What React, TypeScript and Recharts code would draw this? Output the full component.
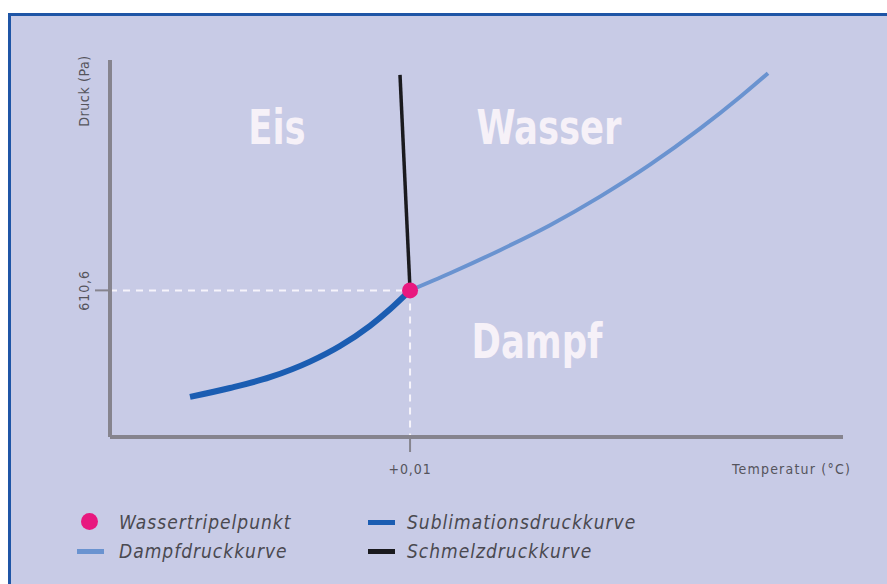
import { LineChart, Line, XAxis, YAxis, ReferenceLine, ReferenceDot } from 'recharts'

// Temperatur (°C) / Druck (Pa)
const sublimation = [
  { t: -44, p: 167 },
  { t: -36, p: 204 },
  { t: -28, p: 249 },
  { t: -20, p: 314 },
  { t: -14, p: 379 },
  { t: -8, p: 463 },
  { t: -4, p: 532 },
  { t: 0.01, p: 610.6 },
]

const dampfdruck = [
  { t: 0.01, p: 610.6 },
  { t: 8, p: 682 },
  { t: 18, p: 778 },
  { t: 28, p: 882 },
  { t: 38, p: 1001 },
  { t: 48, p: 1134 },
  { t: 58, p: 1284 },
  { t: 66, p: 1416 },
  { t: 71.6, p: 1515 },
]

const schmelz = [
  { t: 0.01, p: 610.6 },
  { t: -2, p: 1508 },
]

const triple = { t: 0.01, p: 610.6 }

const regions = [
  { name: 'Eis', t: -26.6, p: 1291 },
  { name: 'Wasser', t: 27.8, p: 1291 },
  { name: 'Dampf', t: 25.4, p: 400 },
]

const xTicks = [0.01]
const yTicks = [610.6]

const legendItems = [
  { name: 'Wassertripelpunkt', kind: 'dot', color: '#e8187f' },
  { name: 'Sublimationsdruckkurve', kind: 'line', color: '#1b5db2' },
  { name: 'Dampfdruckkurve', kind: 'line', color: '#6a93d0' },
  { name: 'Schmelzdruckkurve', kind: 'line', color: '#1a1a1e' },
]

const narrow = "'Liberation Sans Narrow', 'DejaVu Sans Condensed', Arial, sans-serif"
const axisGrey = '#86848e'
const textGrey = '#55545c'

const fmt = (v: number) => (v === 0.01 ? '+0,01' : String(v).replace('.', ','))

function YTick({ y, payload }: any) {
  const tx = 89
  return (
    <text
      x={tx}
      y={y}
      transform={`rotate(-90, ${tx}, ${y})`}
      textAnchor="middle"
      fontFamily={narrow}
      fontSize={14}
      letterSpacing={0.9}
      fill={textGrey}
    >
      {fmt(payload.value)}
    </text>
  )
}

function XTick({ x, payload }: any) {
  return (
    <text x={x} y={474} textAnchor="middle" fontFamily={narrow} fontSize={14} letterSpacing={0.9} fill={textGrey}>
      {fmt(payload.value)}
    </text>
  )
}

function RegionLabel({ viewBox, value }: any) {
  const cx = viewBox.x + viewBox.width / 2
  const cy = viewBox.y + viewBox.height / 2
  return (
    <text
      transform={`translate(${cx}, ${cy + 17}) scale(0.82, 1)`}
      x={0}
      y={0}
      textAnchor="middle"
      fontFamily={narrow}
      fontWeight="bold"
      fontSize={48}
      fill="#f6f1f8"
    >
      {value}
    </text>
  )
}

export default function App() {
  return (
    <div style={{ position: 'absolute', left: 0, top: 0, width: 887, height: 584, background: '#fff', overflow: 'hidden' }}>
      <div
        style={{
          position: 'absolute',
          left: 8,
          top: 13,
          width: 879,
          height: 571,
          boxSizing: 'border-box',
          background: '#c8cbe6',
          borderTop: '3px solid #1f55a6',
          borderLeft: '3px solid #1f55a6',
        }}
      />
      <div style={{ position: 'absolute', left: 0, top: 0 }}>
        <LineChart width={887} height={584} margin={{ top: 60, right: 44, left: 60, bottom: 117 }}>
          <XAxis
            type="number"
            dataKey="t"
            domain={[-60, 86.6]}
            ticks={xTicks}
            tick={<XTick />}
            tickSize={15}
            tickLine={{ stroke: axisGrey, strokeWidth: 2 }}
            axisLine={{ stroke: axisGrey, strokeWidth: 4 }}
            height={30}
            allowDataOverflow
            label={{
              content: ({ viewBox }: any) => (
                <text
                  x={viewBox.x + viewBox.width + 8}
                  y={474}
                  textAnchor="end"
                  fontFamily={narrow}
                  fontSize={14}
                  letterSpacing={1.2}
                  fill={textGrey}
                >
                  Temperatur (°C)
                </text>
              ),
            }}
          />
          <YAxis
            type="number"
            dataKey="p"
            domain={[0, 1570]}
            ticks={yTicks}
            tick={<YTick />}
            tickSize={15}
            tickLine={{ stroke: axisGrey, strokeWidth: 2 }}
            axisLine={{ stroke: axisGrey, strokeWidth: 4 }}
            width={50}
            allowDataOverflow
            label={{
              content: ({ viewBox }: any) => (
                <text
                  x={89}
                  y={viewBox.y + 31}
                  transform={`rotate(-90, 89, ${viewBox.y + 31})`}
                  textAnchor="middle"
                  fontFamily={narrow}
                  fontSize={14}
                  letterSpacing={0.6}
                  fill={textGrey}
                >
                  Druck (Pa)
                </text>
              ),
            }}
          />
          <ReferenceLine
            segment={[{ x: -60, y: triple.p }, { x: triple.t, y: triple.p }]}
            stroke="#f6f4fb"
            strokeWidth={2}
            strokeDasharray="7 6"
          />
          <ReferenceLine
            segment={[{ x: triple.t, y: triple.p }, { x: triple.t, y: 0 }]}
            stroke="#f6f4fb"
            strokeWidth={2}
            strokeDasharray="7 6"
          />
          {regions.map(r => (
            <ReferenceDot
              key={r.name}
              x={r.t}
              y={r.p}
              r={0}
              stroke="none"
              fill="none"
              label={{ value: r.name, content: <RegionLabel /> }}
            />
          ))}
          <Line
            data={dampfdruck}
            dataKey="p"
            type="monotone"
            stroke="#6a93d0"
            strokeWidth={4}
            dot={false}
            isAnimationActive={false}
          />
          <Line
            data={sublimation}
            dataKey="p"
            type="monotone"
            stroke="#1b5db2"
            strokeWidth={6}
            dot={false}
            isAnimationActive={false}
          />
          <Line
            data={schmelz}
            dataKey="p"
            type="linear"
            stroke="#1a1a1e"
            strokeWidth={3.5}
            dot={false}
            isAnimationActive={false}
          />
          <ReferenceDot x={triple.t} y={triple.p} r={8} fill="#e8187f" stroke="none" />
        </LineChart>
      </div>
      <div style={{ position: 'absolute', left: 0, top: 0, fontFamily: narrow, fontStyle: 'italic', fontSize: 19, letterSpacing: 1, color: '#4a4950' }}>
        {legendItems.map((item, i) => {
          const col = i % 2
          const top = 508 + Math.floor(i / 2) * 29
          return (
            <div key={item.name}>
              {item.kind === 'dot' ? (
                <div
                  style={{
                    position: 'absolute',
                    left: 81,
                    top: top + 5,
                    width: 17,
                    height: 17,
                    borderRadius: 9,
                    background: item.color,
                  }}
                />
              ) : (
                <div
                  style={{
                    position: 'absolute',
                    left: col === 0 ? 77 : 368,
                    top: top + 12,
                    width: 27,
                    height: 5,
                    background: item.color,
                  }}
                />
              )}
              <div
                style={{
                  position: 'absolute',
                  left: col === 0 ? 119 : 407,
                  top,
                  height: 28,
                  lineHeight: '28px',
                  whiteSpace: 'nowrap',
                }}
              >
                {item.name}
              </div>
            </div>
          )
        })}
      </div>
    </div>
  )
}
